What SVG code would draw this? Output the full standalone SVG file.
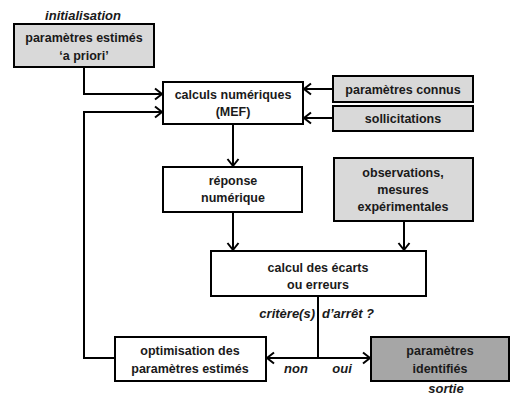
<svg xmlns="http://www.w3.org/2000/svg" width="511" height="396" viewBox="0 0 511 396">
<style>
.box{stroke:#000;stroke-width:2;fill:#fff}
.lg{fill:#d9d9d9}
.dg{fill:#a6a6a6}
.t{font-family:"Liberation Sans",Arial,sans-serif;font-weight:bold;font-size:12.5px;text-anchor:middle;fill:#1a1a1a}
.i{font-family:"Liberation Sans",Arial,sans-serif;font-weight:bold;font-style:italic;font-size:13px;text-anchor:middle;fill:#1a1a1a}
.c{fill:none;stroke:#000;stroke-width:2}
</style>
<defs>
<marker id="ah" markerUnits="userSpaceOnUse" markerWidth="14" markerHeight="14" refX="10" refY="7" orient="auto">
<path d="M3,1.5 L10,7 L3,12.5" fill="none" stroke="#000" stroke-width="2"/>
</marker>
</defs>
<rect width="511" height="396" fill="#fff"/>
<text class="i" x="83" y="20">initialisation</text>
<g id="connectors">
<path class="c" d="M84,67 V94 H162" marker-end="url(#ah)"/>
<path class="c" d="M115,358 H84 V112 H162" marker-end="url(#ah)"/>
<path class="c" d="M333,89 H304" marker-end="url(#ah)"/>
<path class="c" d="M333,118 H304" marker-end="url(#ah)"/>
<path class="c" d="M233,124 V166" marker-end="url(#ah)"/>
<path class="c" d="M233,212 V250" marker-end="url(#ah)"/>
<path class="c" d="M404,221 V250" marker-end="url(#ah)"/>
<path class="c" d="M318,296 V358"/>
<path class="c" d="M318,358 H267" marker-end="url(#ah)"/>
<path class="c" d="M318,358 H370" marker-end="url(#ah)"/>
<text class="i" x="315" y="318" style="text-anchor:end">critère(s)</text>
<text class="i" x="322" y="318" style="text-anchor:start">d’arrêt ?</text>
<text class="i" x="296" y="373">non</text>
<text class="i" x="342" y="373">oui</text>
</g>
<g id="apriori">
<rect class="box lg" x="14" y="24" width="140" height="43"/>
<text class="t" x="84" y="42">paramètres estimés</text>
<text class="t" x="84" y="60">‘a priori’</text>
</g>
<g id="calculs">
<rect class="box" x="163" y="82" width="140" height="42"/>
<text class="t" x="233" y="99">calculs numériques</text>
<text class="t" x="233" y="116">(MEF)</text>
</g>
<g id="connus">
<rect class="box lg" x="333" y="76" width="140" height="26"/>
<text class="t" x="403" y="93.5">paramètres connus</text>
</g>
<g id="sollicitations">
<rect class="box lg" x="333" y="106" width="140" height="25"/>
<text class="t" x="403" y="123">sollicitations</text>
</g>
<g id="reponse">
<rect class="box" x="163" y="167" width="139" height="45"/>
<text class="t" x="233" y="184.5">réponse</text>
<text class="t" x="233" y="201.5">numérique</text>
</g>
<g id="observations">
<rect class="box lg" x="334" y="158" width="139" height="63"/>
<text class="t" x="403" y="177">observations,</text>
<text class="t" x="403" y="194">mesures</text>
<text class="t" x="403" y="211">expérimentales</text>
</g>
<g id="ecarts">
<rect class="box" x="211" y="251" width="215" height="45"/>
<text class="t" x="318" y="271.5">calcul des écarts</text>
<text class="t" x="318" y="288.5">ou erreurs</text>
</g>
<g id="optimisation">
<rect class="box" x="115" y="337" width="151" height="44"/>
<text class="t" x="190" y="355">optimisation des</text>
<text class="t" x="190" y="373">paramètres estimés</text>
</g>
<g id="identifies">
<rect class="box dg" x="371" y="337" width="138" height="44"/>
<text class="t" x="440" y="355">paramètres</text>
<text class="t" x="440" y="373">identifiés</text>
<text class="i" x="446" y="393">sortie</text>
</g>
</svg>
